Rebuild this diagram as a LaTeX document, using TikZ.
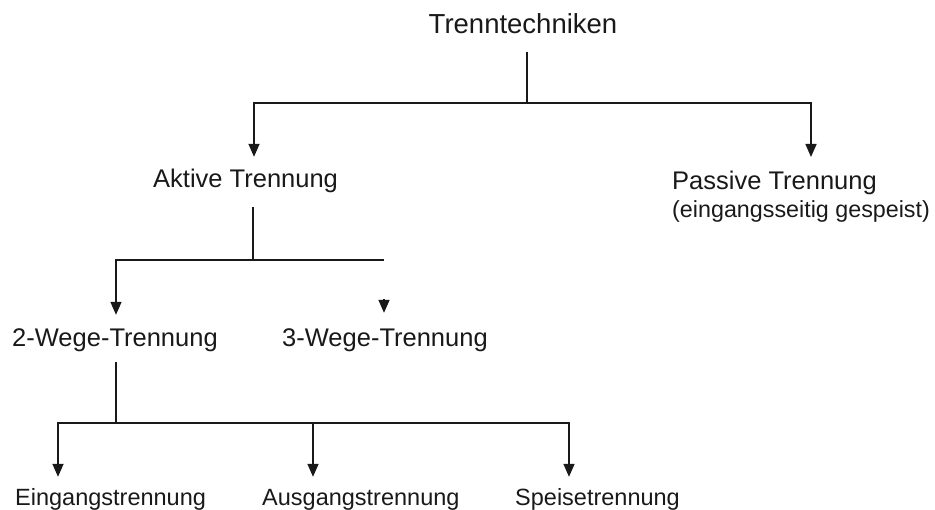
\documentclass[tikz,border=0pt]{standalone}
\usepackage{fontspec}
\setmainfont{Liberation Sans}
\usepackage{tikz}
\usetikzlibrary{arrows.meta,calc}

\begin{document}
\begin{tikzpicture}[x=1pt,y=-1pt,
  conn/.style={line width=1.6pt,black!90},
  arr/.style={conn,-{Triangle[width=11pt,length=13pt]}},
  topl/.style={inner sep=0pt,anchor=base,text=black!90,font=\fontsize{27.5}{30}\selectfont,text height=20pt,text depth=6pt},
  midl/.style={inner sep=0pt,anchor=base west,text=black!90,font=\fontsize{25.5}{28}\selectfont,text height=18pt,text depth=6pt},
  lowl/.style={inner sep=0pt,anchor=base west,text=black!90,font=\fontsize{23.5}{26}\selectfont,text height=17pt,text depth=6pt}]
  \useasboundingbox (0,0) rectangle (935,510);
  % labels
  \node[topl] (top) at (523,34) {Trenntechniken};
  \node[midl] (akt) at (153,188) {Aktive Trennung};
  \node[inner sep=0pt,anchor=north west,align=left,text=black!90,font=\fontsize{25.5}{28}\selectfont] (pas) at (672,171)
    {Passive Trennung\\{\fontsize{23.3}{28}\selectfont(eingangsseitig gespeist)}};
  \node[midl] (zwei) at (12,347) {2-Wege-Trennung};
  \node[midl] (drei) at (282,347) {3-Wege-Trennung};
  \node[lowl] (ein) at (15,506) {Eingangstrennung};
  \node[lowl] (aus) at (262,506) {Ausgangstrennung};
  \node[lowl] (spe) at (515,506) {Speisetrennung};
  % junctions
  \coordinate (jt) at (527,103);
  \coordinate (ja) at (253,260);
  \coordinate (jz) at (116,423);
  \coordinate (dtip) at ([xshift=102pt,yshift=16pt]drei.north west);
  % first level
  \draw[conn] ([yshift=-12pt]top.south -| jt) -- (jt);
  \draw[arr] (jt) -| ([xshift=101pt,yshift=13pt]akt.north west);
  \draw[arr] (jt) -| ([xshift=139pt,yshift=14pt]pas.north west);
  % second level
  \draw[conn] ([xshift=100pt,yshift=-13pt]akt.south west) -- (ja);
  \draw[arr] (ja) -| ([xshift=104pt,yshift=14pt]zwei.north west);
  \draw[conn] (ja) -- (ja -| dtip);
  \draw[arr] ([yshift=13.5pt]dtip) -- (dtip);
  % third level
  \draw[conn] ([xshift=104pt,yshift=-9pt]zwei.south west) -- (jz);
  \draw[arr] (jz) -| ([xshift=43pt,yshift=12pt]ein.north west);
  \draw[arr] (jz) -| ([xshift=51pt,yshift=12pt]aus.north west);
  \draw[arr] (jz) -| ([xshift=54pt,yshift=12pt]spe.north west);
\end{tikzpicture}
\end{document}
